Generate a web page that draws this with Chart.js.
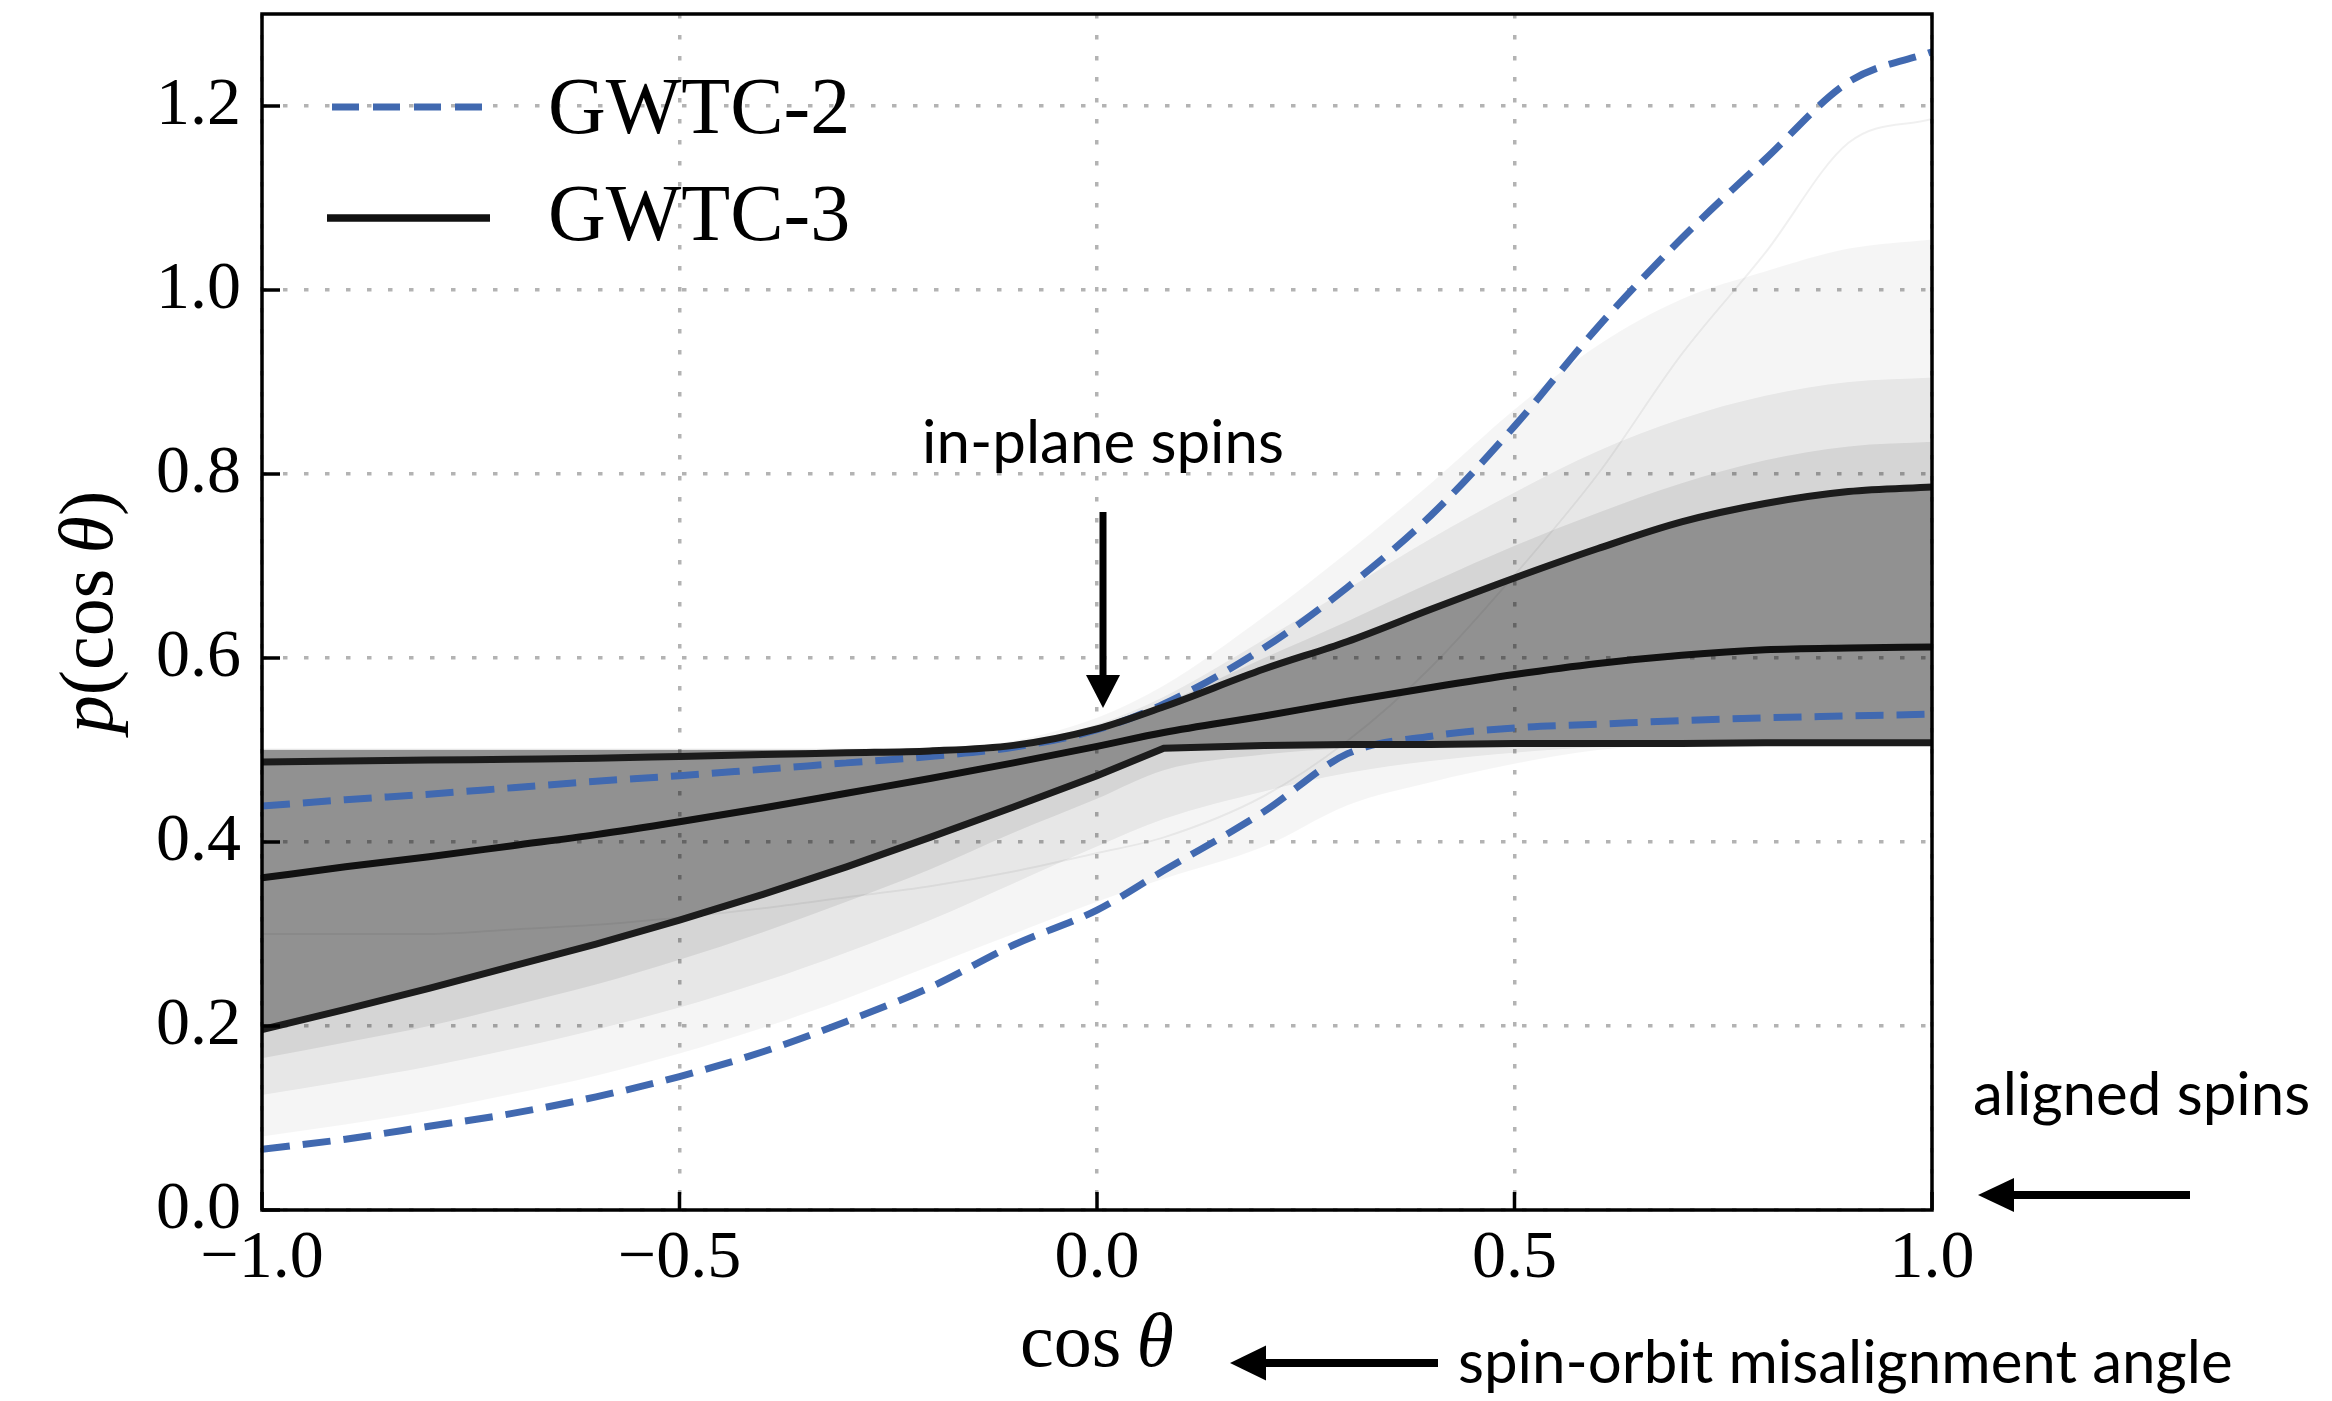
<!DOCTYPE html>
<html><head><meta charset="utf-8">
<script src="https://cdn.jsdelivr.net/npm/chart.js@4.4.0/dist/chart.umd.min.js"></script>
<style>html,body{margin:0;padding:0;background:#fff;overflow:hidden}canvas{display:block}</style>
</head><body>
<canvas id="c" width="2332" height="1401"></canvas>
<script>
// ---- data ----
const xs = [-1, -0.9, -0.8, -0.7, -0.6, -0.5, -0.4, -0.3, -0.2, -0.1, 0, 0.08, 0.2, 0.3, 0.4, 0.5, 0.6, 0.7, 0.8, 0.9, 1];

const gwtc3Upper  = [0.487,0.488,0.489,0.490,0.491,0.493,0.495,0.497,0.499,0.505,0.523,0.547,0.588,0.618,0.653,0.687,0.719,0.748,0.768,0.781,0.786];
const gwtc3Median = [0.361,0.373,0.384,0.396,0.408,0.422,0.437,0.453,0.469,0.486,0.504,0.519,0.537,0.553,0.568,0.582,0.594,0.603,0.609,0.611,0.612];
const gwtc3Lower  = [0.196,0.218,0.241,0.265,0.289,0.315,0.343,0.373,0.405,0.438,0.472,0.502,0.505,0.506,0.506,0.507,0.507,0.507,0.508,0.508,0.508];

const gwtc2Upper  = [0.439,0.446,0.452,0.459,0.466,0.472,0.479,0.486,0.493,0.503,0.522,0.550,0.611,0.677,0.755,0.852,0.960,1.056,1.142,1.226,1.259];
const gwtc2Lower  = [0.066,0.077,0.091,0.105,0.123,0.145,0.172,0.205,0.242,0.288,0.326,0.369,0.433,0.496,0.515,0.524,0.528,0.532,0.535,0.537,0.539];

// envelopes of the GWTC-3 posterior draws (grey spaghetti), outermost to innermost
const drawsFaintHigh = [0.502,0.502,0.502,0.502,0.502,0.502,0.502,0.502,0.503,0.510,0.535,0.570,0.645,0.715,0.790,0.870,0.940,0.990,1.020,1.045,1.055];
const drawsFaintLow  = [0.080,0.093,0.108,0.126,0.146,0.170,0.198,0.230,0.265,0.300,0.335,0.360,0.395,0.440,0.465,0.485,0.500,0.505,0.505,0.505,0.505];
const drawsLightHigh = [0.501,0.501,0.501,0.501,0.501,0.501,0.501,0.501,0.502,0.507,0.528,0.558,0.620,0.675,0.730,0.780,0.825,0.860,0.885,0.900,0.905];
const drawsLightLow  = [0.125,0.140,0.156,0.175,0.196,0.220,0.248,0.280,0.315,0.355,0.395,0.425,0.455,0.475,0.488,0.497,0.503,0.505,0.505,0.505,0.505];
const drawsMidHigh   = [0.500,0.500,0.500,0.500,0.500,0.500,0.500,0.500,0.501,0.506,0.526,0.551,0.600,0.640,0.682,0.722,0.758,0.790,0.815,0.830,0.835];
const drawsMidLow    = [0.165,0.182,0.200,0.222,0.245,0.272,0.302,0.335,0.370,0.410,0.447,0.478,0.495,0.502,0.505,0.505,0.505,0.505,0.505,0.505,0.505];
const drawsDenseHigh = [0.500,0.500,0.500,0.500,0.500,0.500,0.500,0.500,0.501,0.506,0.524,0.548,0.589,0.619,0.654,0.688,0.720,0.749,0.769,0.782,0.787];
const drawOutlier    = [0.300,0.300,0.300,0.305,0.310,0.318,0.328,0.340,0.352,0.368,0.388,0.405,0.450,0.510,0.590,0.690,0.800,0.930,1.040,1.160,1.186];

const xTicks = [-1, -0.5, 0, 0.5, 1];
const xTickLabels = ['\u22121.0', '\u22120.5', '0.0', '0.5', '1.0'];
const yTicks = [0, 0.2, 0.4, 0.6, 0.8, 1.0, 1.2];
const yTickLabels = ['0.0', '0.2', '0.4', '0.6', '0.8', '1.0', '1.2'];
const legendLabels = ['GWTC-2', 'GWTC-3'];
const yTitleParts = [['p', true], ['(cos\u2009', false], ['\u03b8', true], [')', false]];
const xTitleParts = [['cos\u2009', false], ['\u03b8', true]];
const noteInPlane = 'in-plane spins';
const noteAligned = 'aligned spins';
const noteAngle = 'spin-orbit misalignment angle';

// ---- styles ----
const BLUE = '#4169b0';
const SERIF = '"Liberation Serif", "DejaVu Serif", serif';
const SANS = 'Lato, "Open Sans", sans-serif';
const pts = arr => xs.map((x, i) => ({x: x, y: arr[i]}));
const base = {pointRadius: 0, borderWidth: 0, fill: false, cubicInterpolationMode: 'monotone'};
const mk = o => Object.assign({}, base, o);

const datasets = [
  mk({label: 'faintLow', data: pts(drawsFaintLow), order: 9}),
  mk({label: 'faintHigh', data: pts(drawsFaintHigh), fill: 0, backgroundColor: 'rgba(0,0,0,0.04)', order: 9}),
  mk({label: 'lightLow', data: pts(drawsLightLow), order: 8}),
  mk({label: 'lightHigh', data: pts(drawsLightHigh), fill: 2, backgroundColor: 'rgba(0,0,0,0.06)', order: 8}),
  mk({label: 'midLow', data: pts(drawsMidLow), order: 7}),
  mk({label: 'midHigh', data: pts(drawsMidHigh), fill: 4, backgroundColor: 'rgba(0,0,0,0.08)', order: 7}),
  mk({label: 'p5', data: pts(gwtc3Lower), borderWidth: 7, borderColor: '#1c1c1c', cubicInterpolationMode: 'default', tension: 0, order: 0}),
  mk({label: 'dense', data: pts(drawsDenseHigh), fill: 6, backgroundColor: 'rgba(0,0,0,0.32)', order: 6}),
  mk({label: 'p95', data: pts(gwtc3Upper), borderWidth: 7, borderColor: '#1c1c1c', order: 0}),
  mk({label: 'median', data: pts(gwtc3Median), borderWidth: 7, borderColor: '#111', order: 0}),
  mk({label: 'outlier', data: pts(drawOutlier), borderWidth: 2, borderColor: 'rgba(0,0,0,0.06)', order: 5}),
  mk({label: 'GWTC-2 upper', data: pts(gwtc2Upper), borderWidth: 7, borderColor: BLUE, borderDash: [28, 13], order: 1}),
  mk({label: 'GWTC-2 lower', data: pts(gwtc2Lower), borderWidth: 7, borderColor: BLUE, borderDash: [28, 13], order: 1})
];

function drawParts(ctx, parts, size, cx, cy) {
  const fonts = parts.map(p => (p[1] ? 'italic ' : '') + size + 'px ' + SERIF);
  let total = 0;
  const ws = parts.map((p, i) => { ctx.font = fonts[i]; const w = ctx.measureText(p[0]).width; total += w; return w; });
  let x = cx - total / 2;
  ctx.textBaseline = 'middle';
  ctx.textAlign = 'left';
  parts.forEach((p, i) => { ctx.font = fonts[i]; ctx.fillText(p[0], x, cy); x += ws[i]; });
}

function arrow(ctx, x1, y1, x2, y2, w, headLen, headW) {
  const a = Math.atan2(y2 - y1, x2 - x1);
  ctx.save();
  ctx.translate(x2, y2);
  ctx.rotate(a);
  const L = Math.hypot(x2 - x1, y2 - y1);
  ctx.fillStyle = '#000';
  ctx.fillRect(-L, -w / 2, L - headLen + 2, w);
  ctx.beginPath();
  ctx.moveTo(0, 0);
  ctx.lineTo(-headLen, -headW / 2);
  ctx.lineTo(-headLen, headW / 2);
  ctx.closePath();
  ctx.fill();
  ctx.restore();
}

const decor = {
  id: 'decor',
  afterDatasetsDraw(chart) {
    const ctx = chart.ctx, a = chart.chartArea;
    const xs_ = chart.scales.x, ys_ = chart.scales.y;
    ctx.save();
    // inward ticks
    ctx.strokeStyle = '#000'; ctx.lineWidth = 3.5; ctx.setLineDash([]);
    yTicks.forEach(v => { const y = ys_.getPixelForValue(v); ctx.beginPath(); ctx.moveTo(a.left, y); ctx.lineTo(a.left + 18, y); ctx.stroke(); });
    xTicks.forEach(v => { const x = xs_.getPixelForValue(v); ctx.beginPath(); ctx.moveTo(x, a.bottom); ctx.lineTo(x, a.bottom - 18); ctx.stroke(); });
    // frame
    ctx.lineWidth = 3.5;
    ctx.strokeRect(a.left, a.top, a.right - a.left, a.bottom - a.top);

    // legend
    const lx = a.left + 70;
    ctx.lineWidth = 7;
    ctx.strokeStyle = BLUE; ctx.setLineDash([27, 14]);
    ctx.beginPath(); ctx.moveTo(lx, 107); ctx.lineTo(lx + 152, 107); ctx.stroke();
    ctx.setLineDash([]);
    ctx.strokeStyle = '#111'; ctx.lineWidth = 7.5;
    ctx.beginPath(); ctx.moveTo(lx - 5, 218); ctx.lineTo(lx + 158, 218); ctx.stroke();
    ctx.fillStyle = '#000';
    ctx.font = '80px ' + SERIF; ctx.textAlign = 'left'; ctx.textBaseline = 'middle';
    ctx.fillText(legendLabels[0], 548, 112);
    ctx.fillText(legendLabels[1], 548, 219);

    // axis titles
    ctx.save();
    ctx.translate(92, (a.top + a.bottom) / 2);
    ctx.rotate(-Math.PI / 2);
    drawParts(ctx, yTitleParts, 76, 0, 0);
    ctx.restore();
    drawParts(ctx, xTitleParts, 76, (a.left + a.right) / 2, 1346);

    // annotations
    const x0 = xs_.getPixelForValue(0) + 6;
    ctx.font = '60px ' + SANS; ctx.textBaseline = 'alphabetic';
    ctx.textAlign = 'center';
    ctx.fillText(noteInPlane, x0, 463);
    arrow(ctx, x0, 512, x0, 708, 7, 33, 34);
    ctx.textAlign = 'left';
    ctx.fillText(noteAligned, 1973, 1115);
    arrow(ctx, 2190, 1195, 1978, 1195, 8, 36, 34);
    ctx.fillText(noteAngle, 1458, 1383);
    arrow(ctx, 1438, 1363, 1230, 1363, 8, 36, 35);
    ctx.restore();
  }
};

new Chart(document.getElementById('c'), {
  type: 'line',
  data: {datasets: datasets},
  plugins: [decor],
  options: {
    responsive: false, animation: false, devicePixelRatio: 1,
    layout: {padding: {left: 0, top: 14, right: 400, bottom: 0}},
    plugins: {legend: {display: false}, tooltip: {enabled: false}},
    scales: {
      x: {
        type: 'linear', min: -1, max: 1,
        afterBuildTicks: s => { s.ticks = xTicks.map(v => ({value: v})); },
        afterFit: s => { s.height = 191; s.paddingLeft = 0; s.paddingRight = 0; },
        ticks: {
          autoSkip: false, maxRotation: 0, padding: 8, color: '#000',
          font: {family: SERIF, size: 68},
          callback: v => { const i = xTicks.indexOf(v); return i >= 0 ? xTickLabels[i] : ''; }
        },
        grid: {color: '#b3b3b3', lineWidth: 3.5, drawTicks: false},
        border: {display: false, dash: [4.5, 16.5]}
      },
      y: {
        type: 'linear', min: 0, max: 1.3,
        afterBuildTicks: s => { s.ticks = yTicks.map(v => ({value: v})); },
        afterFit: s => { s.width = 262; s.paddingTop = 0; s.paddingBottom = 0; },
        ticks: {
          autoSkip: false, padding: 21, color: '#000',
          font: {family: SERIF, size: 68},
          callback: v => { const i = yTicks.indexOf(v); return i >= 0 ? yTickLabels[i] : ''; }
        },
        grid: {color: '#b3b3b3', lineWidth: 3.5, drawTicks: false},
        border: {display: false, dash: [4.5, 16.5]}
      }
    }
  }
});
</script>
</body></html>
